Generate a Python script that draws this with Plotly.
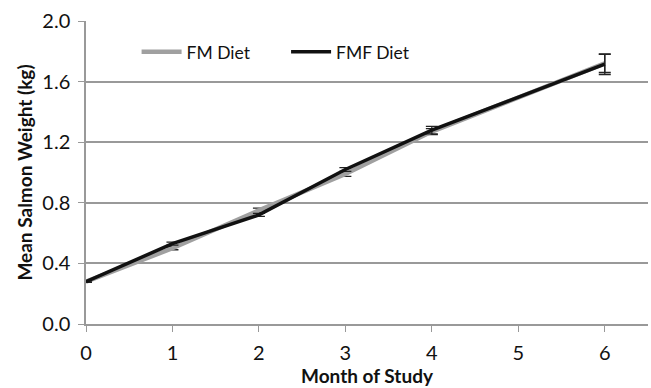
import plotly.graph_objects as go

# Mean salmon weight by month for the two diets
months = [0, 1, 2, 3, 4, 6]
fm_weight = [0.28, 0.50, 0.75, 0.99, 1.27, 1.72]
fm_err = [0.005, 0.01, 0.015, 0.015, 0.02, 0.06]
fmf_weight = [0.28, 0.53, 0.72, 1.02, 1.28, 1.715]
fmf_err = [0.005, 0.01, 0.01, 0.012, 0.025, 0.068]

x_ticks = [0, 1, 2, 3, 4, 5, 6]
y_ticks = [0.0, 0.4, 0.8, 1.2, 1.6, 2.0]

font_family = "Lato, 'Open Sans', sans-serif"

fig = go.Figure()
fig.add_trace(go.Scatter(
    x=months, y=fm_weight, name="FM Diet", mode="lines", legend="legend",
    line=dict(color="#a0a0a0", width=4.5),
    error_y=dict(type="data", array=fm_err, color="#222222", thickness=1.3, width=6),
))
fig.add_trace(go.Scatter(
    x=months, y=fmf_weight, name="FMF Diet", mode="lines", legend="legend2",
    line=dict(color="#111111", width=3.5),
    error_y=dict(type="data", array=fmf_err, color="#222222", thickness=1.3, width=6),
))

legend_style = dict(orientation="h", y=0.898, xanchor="left", yanchor="middle",
                    bgcolor="rgba(0,0,0,0)", font=dict(size=17.5), itemwidth=40)

fig.update_layout(
    width=651, height=388,
    margin=dict(l=86, r=3, t=21, b=64),
    paper_bgcolor="white", plot_bgcolor="white",
    font=dict(family=font_family, size=20, color="#111111"),
    showlegend=True,
    legend=dict(x=0.09, **legend_style),
    legend2=dict(x=0.356, **legend_style),
    xaxis=dict(
        range=[0, 6.5], tickvals=x_ticks, ticktext=[str(v) for v in x_ticks],
        showgrid=False, zeroline=False, showline=True, linecolor="#999999", linewidth=1.5,
        ticks="outside", ticklen=6, tickcolor="#999999", ticklabelstandoff=4,
        title=dict(text="<b>Month of Study</b>", font=dict(size=19), standoff=1),
    ),
    yaxis=dict(
        range=[0, 2.0], tickvals=y_ticks, ticktext=[f"{v:.1f}" for v in y_ticks],
        showgrid=True, gridcolor="#999999", gridwidth=1.5,
        zeroline=False, showline=True, linecolor="#999999", linewidth=1.5,
        ticks="outside", ticklen=6, tickcolor="#999999", ticklabelstandoff=4,
        title=dict(text="<b>Mean Salmon Weight (kg)</b>", font=dict(size=19), standoff=5),
    ),
)

fig.write_html("out.html")
